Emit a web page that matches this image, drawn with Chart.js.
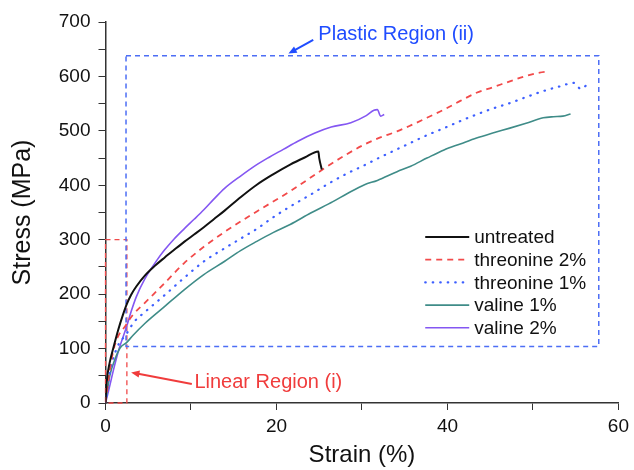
<!DOCTYPE html>
<html>
<head>
<meta charset="utf-8">
<script src="https://cdn.jsdelivr.net/npm/chart.js@4.4.1/dist/chart.umd.min.js"></script>
<style>
  body { margin: 0; background: #fff; }
  canvas { display: block; }
</style>
</head>
<body>
<canvas id="stressChart" width="634" height="470"></canvas>
<script>
// Datos: deformación (%) y esfuerzo (MPa)
const seriesNames = ["untreated", "threonine 2%", "threonine 1%", "valine 1%", "valine 2%"];

const untreatedStrain = [0, 0.15, 0.5, 0.9, 1.5, 2.0, 2.5, 3.0, 3.6, 4.6, 5.7, 6.9, 8.0, 9.2, 10.4, 11.5, 12.7, 13.9, 15.8, 17.7, 19.6, 21.6, 23.3, 24.9, 25.0, 25.3];
const untreatedStress = [0, 40, 75, 100, 135, 160, 182, 199, 214, 234, 251, 267, 281, 296, 310, 323, 338, 353, 378, 401, 420, 438, 451, 462, 450, 429];

const threonine2Strain = [0, 0.5, 0.9, 1.4, 2.3, 3.2, 4.6, 6.9, 9.2, 11.5, 13.9, 17.7, 21.6, 25.4, 28.0, 30.3, 32.0, 34.1, 35.7, 37.6, 39.6, 41.5, 43.4, 45.3, 47.3, 49.0, 50.8, 51.7];
const threonine2Stress = [0, 60, 95, 120, 141, 162, 184, 220, 257, 287, 314, 352, 389, 429, 455, 475, 487, 499, 510, 524, 539, 555, 570, 580, 591, 600, 607, 609];

const threonine1Strain = [0, 0.5, 1.3, 2.46, 3.4, 4.6, 6.9, 9.2, 11.5, 13.9, 15.8, 17.7, 19.6, 21.6, 24.0, 26.3, 28.3, 30.3, 31.8, 33.4, 35.7, 37.6, 39.6, 41.5, 43.4, 45.3, 47.3, 49.2, 51.2, 53.0, 54.8, 55.6, 56.4];
const threonine1Stress = [0, 55, 100, 127, 150, 167, 198, 230, 260, 284, 302, 320, 341, 361, 383, 405, 422, 437, 449, 461, 478, 492, 505, 518, 530, 541, 551, 562, 573, 581, 588, 577, 586];

const valine1Strain = [0, 0.5, 1.1, 1.7, 2.46, 3.2, 4.6, 6.9, 9.2, 11.5, 13.9, 15.8, 17.7, 19.6, 21.6, 24.0, 26.6, 28.3, 30.3, 31.8, 34.1, 35.7, 37.6, 39.6, 41.5, 43.4, 45.3, 47.3, 49.2, 51.2, 52.4, 53.5, 54.4];
const valine1Stress = [0, 50, 80, 101, 111, 124, 146, 177, 208, 236, 260, 280, 297, 313, 328, 349, 370, 385, 401, 409, 425, 435, 450, 465, 476, 487, 496, 505, 514, 524, 526, 527, 531];

const valine2Strain = [0, 0.4, 1.0, 1.6, 2.46, 3.0, 3.6, 4.6, 6.0, 6.9, 8.0, 9.2, 10.4, 11.5, 12.7, 13.9, 15.8, 17.7, 19.2, 20.8, 22.5, 24.5, 26.4, 28.7, 30.5, 31.4, 31.8, 32.2, 32.6];
const valine2Stress = [0, 25, 65, 100, 140, 168, 195, 228, 262, 281, 301, 320, 338, 355, 375, 394, 417, 438, 452, 466, 481, 496, 507, 515, 528, 538, 539, 527, 530];

// Ejes
const xTicksMajor = [0, 20, 40, 60];
const yTicksMajor = [0, 100, 200, 300, 400, 500, 600, 700];

// Regiones marcadas (en unidades de los ejes)
const plasticBox = { x0: 2.4, y0: 104, x1: 57.7, y1: 638 };
const linearBox = { x0: 0, y0: 0, x1: 2.5, y1: 300 };
const plasticArrow = { fromX: 24.3, fromY: 667, toX: 21.4, toY: 642 };
const linearArrow = { fromX: 10.1, fromY: 35, toX: 3.0, toY: 56 };
const plasticLabel = { text: "Plastic Region (ii)", x: 24.9, y: 677 };
const linearLabel = { text: "Linear Region (i)", x: 10.4, y: 37 };

const FONT = "'Liberation Sans', Arial, sans-serif";

function toPoints(xs, ys) {
    return xs.map(function (x, i) { return { x: x, y: ys[i] }; });
}

// Dibuja una flecha con punta rellena
function drawArrow(ctx, x1, y1, x2, y2, color) {
    const ang = Math.atan2(y2 - y1, x2 - x1);
    const head = 9;
    ctx.save();
    ctx.strokeStyle = color;
    ctx.fillStyle = color;
    ctx.lineWidth = 2;
    ctx.setLineDash([]);
    ctx.beginPath();
    ctx.moveTo(x1, y1);
    ctx.lineTo(x2 - Math.cos(ang) * head * 0.8, y2 - Math.sin(ang) * head * 0.8);
    ctx.stroke();
    ctx.beginPath();
    ctx.moveTo(x2, y2);
    ctx.lineTo(x2 - head * Math.cos(ang - 0.4), y2 - head * Math.sin(ang - 0.4));
    ctx.lineTo(x2 - head * Math.cos(ang + 0.4), y2 - head * Math.sin(ang + 0.4));
    ctx.closePath();
    ctx.fill();
    ctx.restore();
}

function drawBox(ctx, xs, ys, box, color, width) {
    const left = xs.getPixelForValue(box.x0);
    const right = xs.getPixelForValue(box.x1);
    const top = ys.getPixelForValue(box.y1);
    const bottom = ys.getPixelForValue(box.y0);
    ctx.save();
    ctx.strokeStyle = color;
    ctx.lineWidth = width;
    ctx.setLineDash([5, 4]);
    ctx.strokeRect(left, top, right - left, bottom - top);
    ctx.restore();
}

const regionsPlugin = {
    id: "regions",
    beforeDatasetsDraw: function (chart) {
        const ctx = chart.ctx;
        const xs = chart.scales.x;
        const ys = chart.scales.y;
        drawBox(ctx, xs, ys, linearBox, "#f04a4a", 1.3);
        drawBox(ctx, xs, ys, plasticBox, "#4d6ef5", 1.5);
    },
    afterDraw: function (chart) {
        const ctx = chart.ctx;
        const xs = chart.scales.x;
        const ys = chart.scales.y;

        // flechas y textos de las regiones
        drawArrow(ctx, xs.getPixelForValue(plasticArrow.fromX), ys.getPixelForValue(plasticArrow.fromY),
            xs.getPixelForValue(plasticArrow.toX), ys.getPixelForValue(plasticArrow.toY), "#1f4cff");
        drawArrow(ctx, xs.getPixelForValue(linearArrow.fromX), ys.getPixelForValue(linearArrow.fromY),
            xs.getPixelForValue(linearArrow.toX), ys.getPixelForValue(linearArrow.toY), "#f03c3c");

        ctx.save();
        ctx.font = "20px " + FONT;
        ctx.textBaseline = "middle";
        ctx.textAlign = "left";
        ctx.fillStyle = "#1f4cff";
        ctx.fillText(plasticLabel.text, xs.getPixelForValue(plasticLabel.x), ys.getPixelForValue(plasticLabel.y));
        ctx.fillStyle = "#f03c3c";
        ctx.fillText(linearLabel.text, xs.getPixelForValue(linearLabel.x), ys.getPixelForValue(linearLabel.y));
        ctx.restore();

        // leyenda dentro del área del gráfico
        const lx = xs.getPixelForValue(37.4);
        let ly = ys.getPixelForValue(305);
        ctx.save();
        ctx.font = "19px " + FONT;
        ctx.textBaseline = "middle";
        chart.data.datasets.forEach(function (ds) {
            ctx.strokeStyle = ds.borderColor;
            ctx.lineWidth = ds.borderWidth;
            ctx.lineCap = ds.borderCapStyle || "butt";
            ctx.setLineDash(ds.borderDash || []);
            ctx.beginPath();
            ctx.moveTo(lx, ly);
            ctx.lineTo(lx + 44, ly);
            ctx.stroke();
            ctx.fillStyle = "#111";
            ctx.fillText(ds.label, lx + 49, ly + 1);
            ly += 22.7;
        });
        ctx.restore();
    }
};

function crearGrafica() {
    const datos = {
        datasets: [
            {
                label: seriesNames[0],
                data: toPoints(untreatedStrain, untreatedStress),
                borderColor: "#111111",
                borderWidth: 2
            },
            {
                label: seriesNames[1],
                data: toPoints(threonine2Strain, threonine2Stress),
                borderColor: "#f24a4a",
                borderWidth: 1.8,
                borderDash: [6, 5]
            },
            {
                label: seriesNames[2],
                data: toPoints(threonine1Strain, threonine1Stress),
                borderColor: "#3d5fff",
                borderWidth: 2.2,
                borderDash: [0.5, 7],
                borderCapStyle: "round"
            },
            {
                label: seriesNames[3],
                data: toPoints(valine1Strain, valine1Stress),
                borderColor: "#3f8c88",
                borderWidth: 1.6
            },
            {
                label: seriesNames[4],
                data: toPoints(valine2Strain, valine2Stress),
                borderColor: "#8457f2",
                borderWidth: 1.6
            }
        ]
    };

    const opciones = {
        responsive: false,
        animation: false,
        layout: { padding: { top: 22, right: 11, left: 0, bottom: 0 } },
        elements: {
            point: { radius: 0 },
            line: { cubicInterpolationMode: "monotone" }
        },
        plugins: { legend: { display: false }, tooltip: { enabled: false } },
        scales: {
            x: {
                type: "linear",
                min: 0,
                max: 60,
                afterFit: function (scale) { scale.height = 67; },
                grid: { drawOnChartArea: false, tickLength: 7, color: "#333" },
                border: { color: "#333", width: 1.5 },
                ticks: {
                    stepSize: 10,
                    padding: 5,
                    color: "#111",
                    font: { family: FONT, size: 19 },
                    callback: function (v) { return xTicksMajor.includes(v) ? String(v) : ""; }
                },
                title: {
                    display: true,
                    text: "Strain (%)",
                    color: "#111",
                    font: { family: FONT, size: 24 },
                    padding: { top: 0, bottom: 0 }
                }
            },
            y: {
                type: "linear",
                min: 0,
                max: 700,
                afterFit: function (scale) { scale.width = 105.5; },
                grid: { drawOnChartArea: false, tickLength: 7, color: "#333" },
                border: { color: "#333", width: 1.5 },
                ticks: {
                    stepSize: 50,
                    padding: 8,
                    color: "#111",
                    font: { family: FONT, size: 19 },
                    callback: function (v) { return yTicksMajor.includes(v) ? String(v) : ""; }
                },
                title: {
                    display: true,
                    text: "Stress (MPa)",
                    color: "#111",
                    font: { family: FONT, size: 25 },
                    padding: { top: 8, bottom: 0 }
                }
            }
        }
    };

    new Chart(document.getElementById("stressChart"), {
        type: "line",
        data: datos,
        options: opciones,
        plugins: [regionsPlugin]
    });
}

window.addEventListener("load", function () {
    crearGrafica();
});
</script>
</body>
</html>
